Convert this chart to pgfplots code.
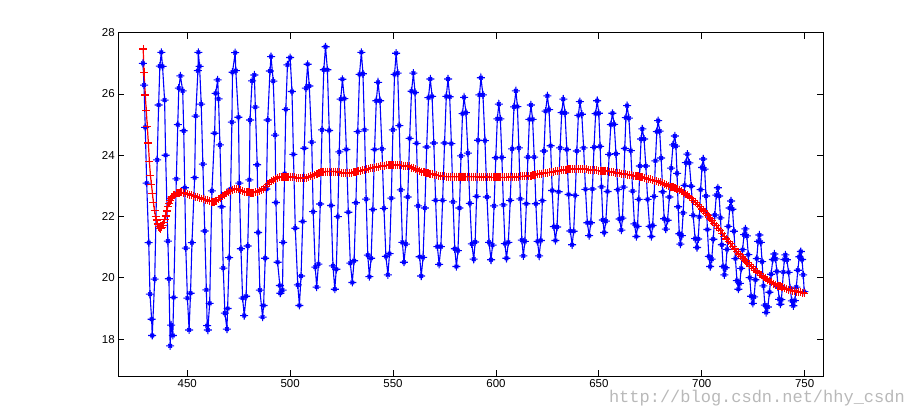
\documentclass[border=0pt]{standalone}
\usepackage{fontspec}
\setmainfont{Liberation Sans}
\newfontfamily\wmfont{Liberation Mono}
\usepackage{pgfplots}
\pgfplotsset{compat=1.18}
\pgfdeclareplotmark{mstar}{%
  \pgfpathmoveto{\pgfqpoint{-\pgfplotmarksize}{0pt}}\pgfpathlineto{\pgfqpoint{\pgfplotmarksize}{0pt}}%
  \pgfpathmoveto{\pgfqpoint{0pt}{-\pgfplotmarksize}}\pgfpathlineto{\pgfqpoint{0pt}{\pgfplotmarksize}}%
  \pgfpathmoveto{\pgfqpoint{-.45\pgfplotmarksize}{-.45\pgfplotmarksize}}\pgfpathlineto{\pgfqpoint{.45\pgfplotmarksize}{.45\pgfplotmarksize}}%
  \pgfpathmoveto{\pgfqpoint{-.45\pgfplotmarksize}{.45\pgfplotmarksize}}\pgfpathlineto{\pgfqpoint{.45\pgfplotmarksize}{-.45\pgfplotmarksize}}%
  \pgfusepathqstroke}
\begin{document}
\begin{tikzpicture}
\begin{axis}[
  scale only axis, width=705.2pt, height=343.3pt,
  xmin=416.5, xmax=759.1, ymin=16.8, ymax=28,
  xtick={450,500,550,600,650,700,750},
  ytick={18,20,22,24,26,28},
  tick align=inside, major tick length=6pt,
  tick style={black, line width=0.8pt},
  axis line style={line width=0.8pt},
  ticklabel style={font=\fontsize{11.5}{13}\selectfont},
  /pgf/number format/assume math mode=true,
  /pgf/number format/1000 sep={},
]
\coordinate (bl) at (rel axis cs:0,0);
\coordinate (tr) at (rel axis cs:1,1);
\addplot[blue, line width=1.1pt, mark=mstar, mark size=4pt, mark options={solid, line width=1.1pt}] table {
x y
428.5 27.00
429.0 26.29
429.6 24.91
430.3 23.09
431.3 21.15
431.9 19.47
432.7 18.65
433.0 18.12
434.2 19.96
435.4 23.85
436.1 25.64
436.7 26.91
437.4 27.36
438.0 26.90
439.0 25.80
439.5 24.00
440.6 21.20
441.1 19.97
441.7 17.78
442.2 18.46
443.0 18.12
443.4 19.36
444.7 23.23
445.4 25.00
445.9 26.19
446.7 26.59
447.8 26.10
448.3 24.80
448.8 22.94
449.3 20.97
450.1 19.34
450.9 18.30
451.6 19.50
452.3 21.15
453.6 23.27
454.1 25.28
455.2 26.76
455.4 27.36
456.0 26.90
456.8 25.67
457.6 23.71
458.5 21.53
459.3 19.61
459.7 18.44
460.0 18.30
460.9 19.17
462.0 22.84
463.3 24.72
463.8 26.02
464.8 26.46
465.2 25.84
465.9 24.34
466.7 22.32
467.5 20.32
468.3 18.85
469.3 18.33
469.6 19.00
470.4 20.66
471.1 22.90
471.7 25.08
472.0 26.71
473.3 27.35
473.6 26.76
474.9 25.24
475.3 23.09
476.1 20.95
476.9 19.34
477.7 18.77
478.6 19.40
479.4 21.04
480.2 23.20
480.5 25.15
481.5 26.43
482.6 26.62
483.1 25.57
484.0 23.69
484.5 21.48
485.3 19.60
486.6 18.72
487.1 19.10
487.9 20.64
488.5 22.90
489.1 25.15
490.2 26.75
490.7 27.22
491.8 26.42
492.7 24.66
493.1 22.46
493.9 20.51
495.0 19.75
495.2 19.50
496.3 19.60
496.6 21.16
497.3 23.40
497.9 25.50
498.7 26.95
500.0 27.19
500.9 26.08
501.6 24.03
502.5 21.62
503.7 19.77
504.5 19.10
505.3 20.06
506.1 21.84
506.9 24.23
507.7 26.19
508.5 26.97
509.3 26.26
510.5 24.43
511.2 22.16
512.2 20.35
512.9 19.70
513.76 20.45
514.62 22.41
515.48 24.83
516.34 26.79
517.2 27.54
518.1 26.79
519.0 24.81
519.9 22.36
520.8 20.39
521.7 19.63
522.42 20.28
523.14 22.00
523.86 24.11
524.58 25.83
525.4 26.48
526.36 25.85
527.32 24.19
528.28 22.14
529.24 20.48
530.2 19.85
531.08 20.56
531.96 22.45
532.84 24.77
533.72 26.64
534.6 27.36
535.38 26.66
536.16 24.83
536.94 22.57
537.72 20.74
538.5 20.04
539.34 20.64
540.18 22.23
541.02 24.19
541.86 25.78
542.7 26.38
543.66 25.78
544.62 24.21
545.58 22.27
546.54 20.70
547.5 20.10
548.28 20.79
549.16 22.60
549.94 24.83
550.72 26.64
551.5 27.33
552.26 26.68
553.02 24.97
553.78 22.87
554.54 21.16
555.3 20.51
556.22 21.10
557.14 22.64
558.06 24.55
558.98 26.09
559.9 26.68
560.66 26.05
561.42 24.39
562.18 22.35
562.94 20.69
563.7 20.06
564.58 20.67
565.46 22.28
566.34 24.27
567.22 25.88
568.1 26.49
568.96 25.92
569.82 24.40
570.68 22.53
571.54 21.02
572.4 20.44
573.24 21.02
574.08 22.53
575.02 24.40
575.86 25.92
576.7 26.49
577.52 25.91
578.34 24.38
579.16 22.48
579.98 20.95
580.8 20.37
581.54 20.89
582.28 22.28
583.02 23.98
583.76 25.36
584.5 25.89
585.44 25.39
586.38 24.07
587.32 22.43
588.26 21.11
589.2 20.61
589.9 21.17
590.6 22.66
591.3 24.49
592.0 25.97
592.7 26.53
593.68 25.97
594.66 24.48
595.64 22.64
596.62 21.16
597.6 20.59
598.34 21.07
599.08 22.35
599.92 23.92
600.66 25.19
601.4 25.67
602.14 25.19
602.88 23.93
603.62 22.38
604.36 21.12
605.1 20.64
606.02 21.16
606.94 22.53
607.86 24.21
608.78 25.58
609.7 26.10
610.42 25.59
611.14 24.24
611.86 22.58
612.58 21.23
613.3 20.72
614.04 21.19
614.78 22.42
615.52 23.94
616.26 25.17
617.0 25.64
617.8 25.17
618.6 23.94
619.4 22.42
620.2 21.19
621.0 20.72
621.78 21.22
622.56 22.52
623.34 24.14
624.12 25.44
625.0 25.94
625.78 25.49
626.56 24.31
627.34 22.85
628.12 21.67
628.9 21.22
629.66 21.66
630.42 22.81
631.18 24.24
631.94 25.39
632.7 25.83
633.56 25.38
634.42 24.19
635.28 22.72
636.14 21.53
637.0 21.08
637.76 21.52
638.52 22.69
639.28 24.14
640.04 25.30
640.8 25.75
641.7 25.34
642.6 24.24
643.5 22.89
644.4 21.80
645.3 21.38
646.08 21.80
646.86 22.90
647.64 24.26
648.42 25.36
649.2 25.78
649.96 25.37
650.62 24.29
651.28 22.97
651.94 21.89
652.6 21.48
653.4 21.85
654.2 22.82
655.0 24.03
655.8 25.00
656.6 25.37
657.46 25.01
658.32 24.05
659.18 22.88
660.04 21.92
660.9 21.56
661.46 21.95
662.02 22.96
662.58 24.22
663.14 25.23
663.7 25.62
664.6 25.21
665.5 24.15
666.4 22.83
667.3 21.76
668.2 21.35
668.78 21.68
669.36 22.56
669.94 23.65
670.52 24.53
671.1 24.86
671.96 24.53
672.82 23.65
673.68 22.56
674.64 21.68
675.5 21.35
676.16 21.71
676.82 22.66
677.48 23.82
678.14 24.77
678.8 25.13
679.54 24.79
680.28 23.91
681.02 22.81
681.76 21.93
682.5 21.59
683.38 21.88
684.26 22.64
685.14 23.58
686.02 24.34
686.9 24.63
687.44 24.30
687.98 23.41
688.52 22.32
689.06 21.44
689.6 21.10
690.28 21.38
690.96 22.12
691.64 23.02
692.32 23.76
693.0 24.04
693.94 23.75
694.88 22.99
695.82 22.04
696.76 21.28
697.7 20.99
698.28 21.27
698.86 21.99
699.44 22.88
700.12 23.60
700.7 23.88
701.38 23.55
702.06 22.67
702.74 21.58
703.42 20.70
704.1 20.37
704.84 20.61
705.58 21.26
706.32 22.05
707.06 22.70
707.8 22.94
708.44 22.67
709.08 21.96
709.72 21.08
710.36 20.37
711.0 20.10
711.64 20.33
712.28 20.93
712.92 21.68
713.56 22.28
714.2 22.51
714.92 22.24
715.64 21.52
716.36 20.63
717.08 19.91
717.8 19.63
718.48 19.82
719.16 20.31
719.84 20.92
720.52 21.41
721.2 21.60
721.9 21.37
722.6 20.76
723.3 20.01
724.0 19.40
724.8 19.17
725.44 19.38
726.08 19.94
726.72 20.63
727.36 21.19
728.0 21.40
728.66 21.16
729.32 20.53
729.98 19.74
730.64 19.11
731.3 18.87
732.1 19.05
732.9 19.53
733.7 20.12
734.5 20.60
735.3 20.78
735.88 20.62
736.46 20.21
737.04 19.71
737.62 19.30
738.2 19.14
738.68 19.29
739.16 19.70
739.64 20.19
740.12 20.60
740.6 20.75
741.38 20.59
742.16 20.18
742.94 19.66
743.72 19.25
744.5 19.09
745.22 19.26
745.94 19.70
746.66 20.25
747.38 20.69
748.1 20.86
748.7 20.60
749.3 20.10
749.8 19.55
};
\addplot[red, line width=1.2pt, mark=+, mark size=4pt, mark options={solid, line width=1.2pt}] table {
x y
428.6 27.47
429.0 26.71
429.6 25.97
430.1 25.45
430.6 24.95
431.1 24.40
431.6 23.80
432.1 23.35
432.6 23.05
433.1 22.75
433.6 22.45
434.1 22.20
434.6 22.00
435.1 21.89
435.6 21.76
436.1 21.67
436.6 21.62
437.1 21.60
437.6 21.65
438.1 21.72
438.6 21.80
439.1 21.90
439.6 22.02
440.1 22.18
440.6 22.33
441.1 22.43
441.6 22.52
442.1 22.58
442.6 22.64
443.6 22.70
444 22.72
445 22.76
446 22.78
447 22.79
448 22.78
449 22.76
450 22.74
451 22.72
452 22.70
453 22.68
454 22.65
455 22.63
456 22.61
457 22.59
458 22.57
459 22.55
460 22.53
461 22.50
462 22.49
463 22.49
464 22.52
465 22.56
466 22.62
467 22.67
468 22.72
469 22.77
470 22.81
471 22.85
472 22.88
473 22.89
474 22.90
475 22.89
476 22.86
477 22.83
478 22.81
479 22.80
480 22.79
481 22.78
482 22.78
483 22.79
484 22.81
485 22.84
486 22.87
487 22.91
488 22.98
489 23.05
490 23.11
491 23.16
492 23.20
493 23.24
494 23.27
495 23.29
496 23.30
497 23.30
498 23.30
499 23.30
500 23.30
501 23.29
502 23.28
503 23.27
504 23.26
505 23.25
506 23.25
507 23.26
508 23.27
509 23.29
510 23.31
511 23.34
512 23.36
513 23.39
514 23.42
515 23.44
516 23.46
517 23.47
518 23.47
519 23.47
520 23.47
521 23.47
522 23.47
523 23.47
524 23.45
525 23.43
526 23.42
527 23.41
528 23.41
529 23.42
530 23.43
531 23.44
532 23.46
533 23.48
534 23.50
535 23.51
536 23.52
537 23.54
538 23.56
539 23.58
540 23.59
541 23.60
542 23.62
543 23.63
544 23.64
545 23.65
546 23.66
547 23.67
548 23.67
549 23.68
550 23.68
551 23.68
552 23.68
553 23.67
554 23.67
555 23.66
556 23.65
557 23.65
558 23.64
559 23.60
560 23.58
561 23.55
562 23.52
563 23.49
564 23.47
565 23.45
566 23.43
567 23.41
568 23.40
569 23.39
570 23.37
571 23.35
572 23.34
573 23.33
574 23.32
575 23.31
576 23.30
577 23.30
578 23.30
579 23.30
580 23.30
581 23.30
582 23.30
583 23.30
584 23.30
585 23.30
586 23.30
587 23.30
588 23.30
589 23.30
590 23.30
591 23.30
592 23.29
593 23.29
594 23.29
595 23.29
596 23.29
597 23.28
598 23.28
599 23.28
600 23.28
601 23.28
602 23.28
603 23.28
604 23.28
605 23.28
606 23.28
607 23.29
608 23.29
609 23.29
610 23.30
611 23.30
612 23.31
613 23.31
614 23.32
615 23.32
616 23.33
617 23.34
618 23.35
619 23.37
620 23.38
621 23.39
622 23.40
623 23.42
624 23.43
625 23.43
626 23.44
627 23.45
628 23.46
629 23.48
630 23.49
631 23.50
632 23.51
633 23.52
634 23.53
635 23.54
636 23.55
637 23.55
638 23.55
639 23.55
640 23.55
641 23.55
642 23.55
643 23.55
644 23.54
645 23.53
646 23.52
647 23.52
648 23.51
649 23.51
650 23.50
651 23.50
652 23.49
653 23.49
654 23.48
655 23.47
656 23.46
657 23.45
658 23.43
659 23.42
660 23.41
661 23.40
662 23.39
663 23.38
664 23.37
665 23.36
666 23.35
667 23.33
668 23.32
669 23.31
670 23.29
671 23.28
672 23.26
673 23.24
674 23.22
675 23.21
676 23.19
677 23.17
678 23.16
679 23.14
680 23.12
681 23.09
682 23.06
683 23.03
684 23.00
685 22.97
686 22.95
687 22.92
688 22.90
689 22.87
690 22.83
691 22.78
692 22.74
693 22.69
694 22.64
695 22.58
696 22.52
697 22.46
698 22.40
699 22.33
700 22.25
701 22.18
702 22.10
703 22.03
704 21.95
705 21.87
706 21.78
707 21.70
708 21.62
709 21.54
710 21.45
711 21.36
712 21.27
713 21.19
714 21.11
715 21.03
716 20.94
717 20.86
718 20.78
719 20.71
720 20.64
721 20.57
722 20.50
723 20.44
724 20.38
725 20.31
726 20.25
727 20.19
728 20.13
729 20.08
730 20.03
731 19.98
732 19.93
733 19.89
734 19.85
735 19.81
736 19.78
737 19.75
738 19.72
739 19.69
740 19.66
741 19.64
742 19.62
743 19.60
744 19.58
745 19.57
746 19.55
747 19.54
748 19.53
749 19.52
749.8 19.50
};
\end{axis}
\path ([shift={(-118.3pt,-44pt)}]bl) rectangle ([shift={(87.6pt,32.7pt)}]tr);
\node[overlay, text=gray!55, font=\wmfont\fontsize{17}{19}\selectfont, inner sep=0pt] at ([shift={(638.7pt,-22pt)}]bl) {http://blog.csdn.net/hhy\_csdn};
\end{tikzpicture}
\end{document}
